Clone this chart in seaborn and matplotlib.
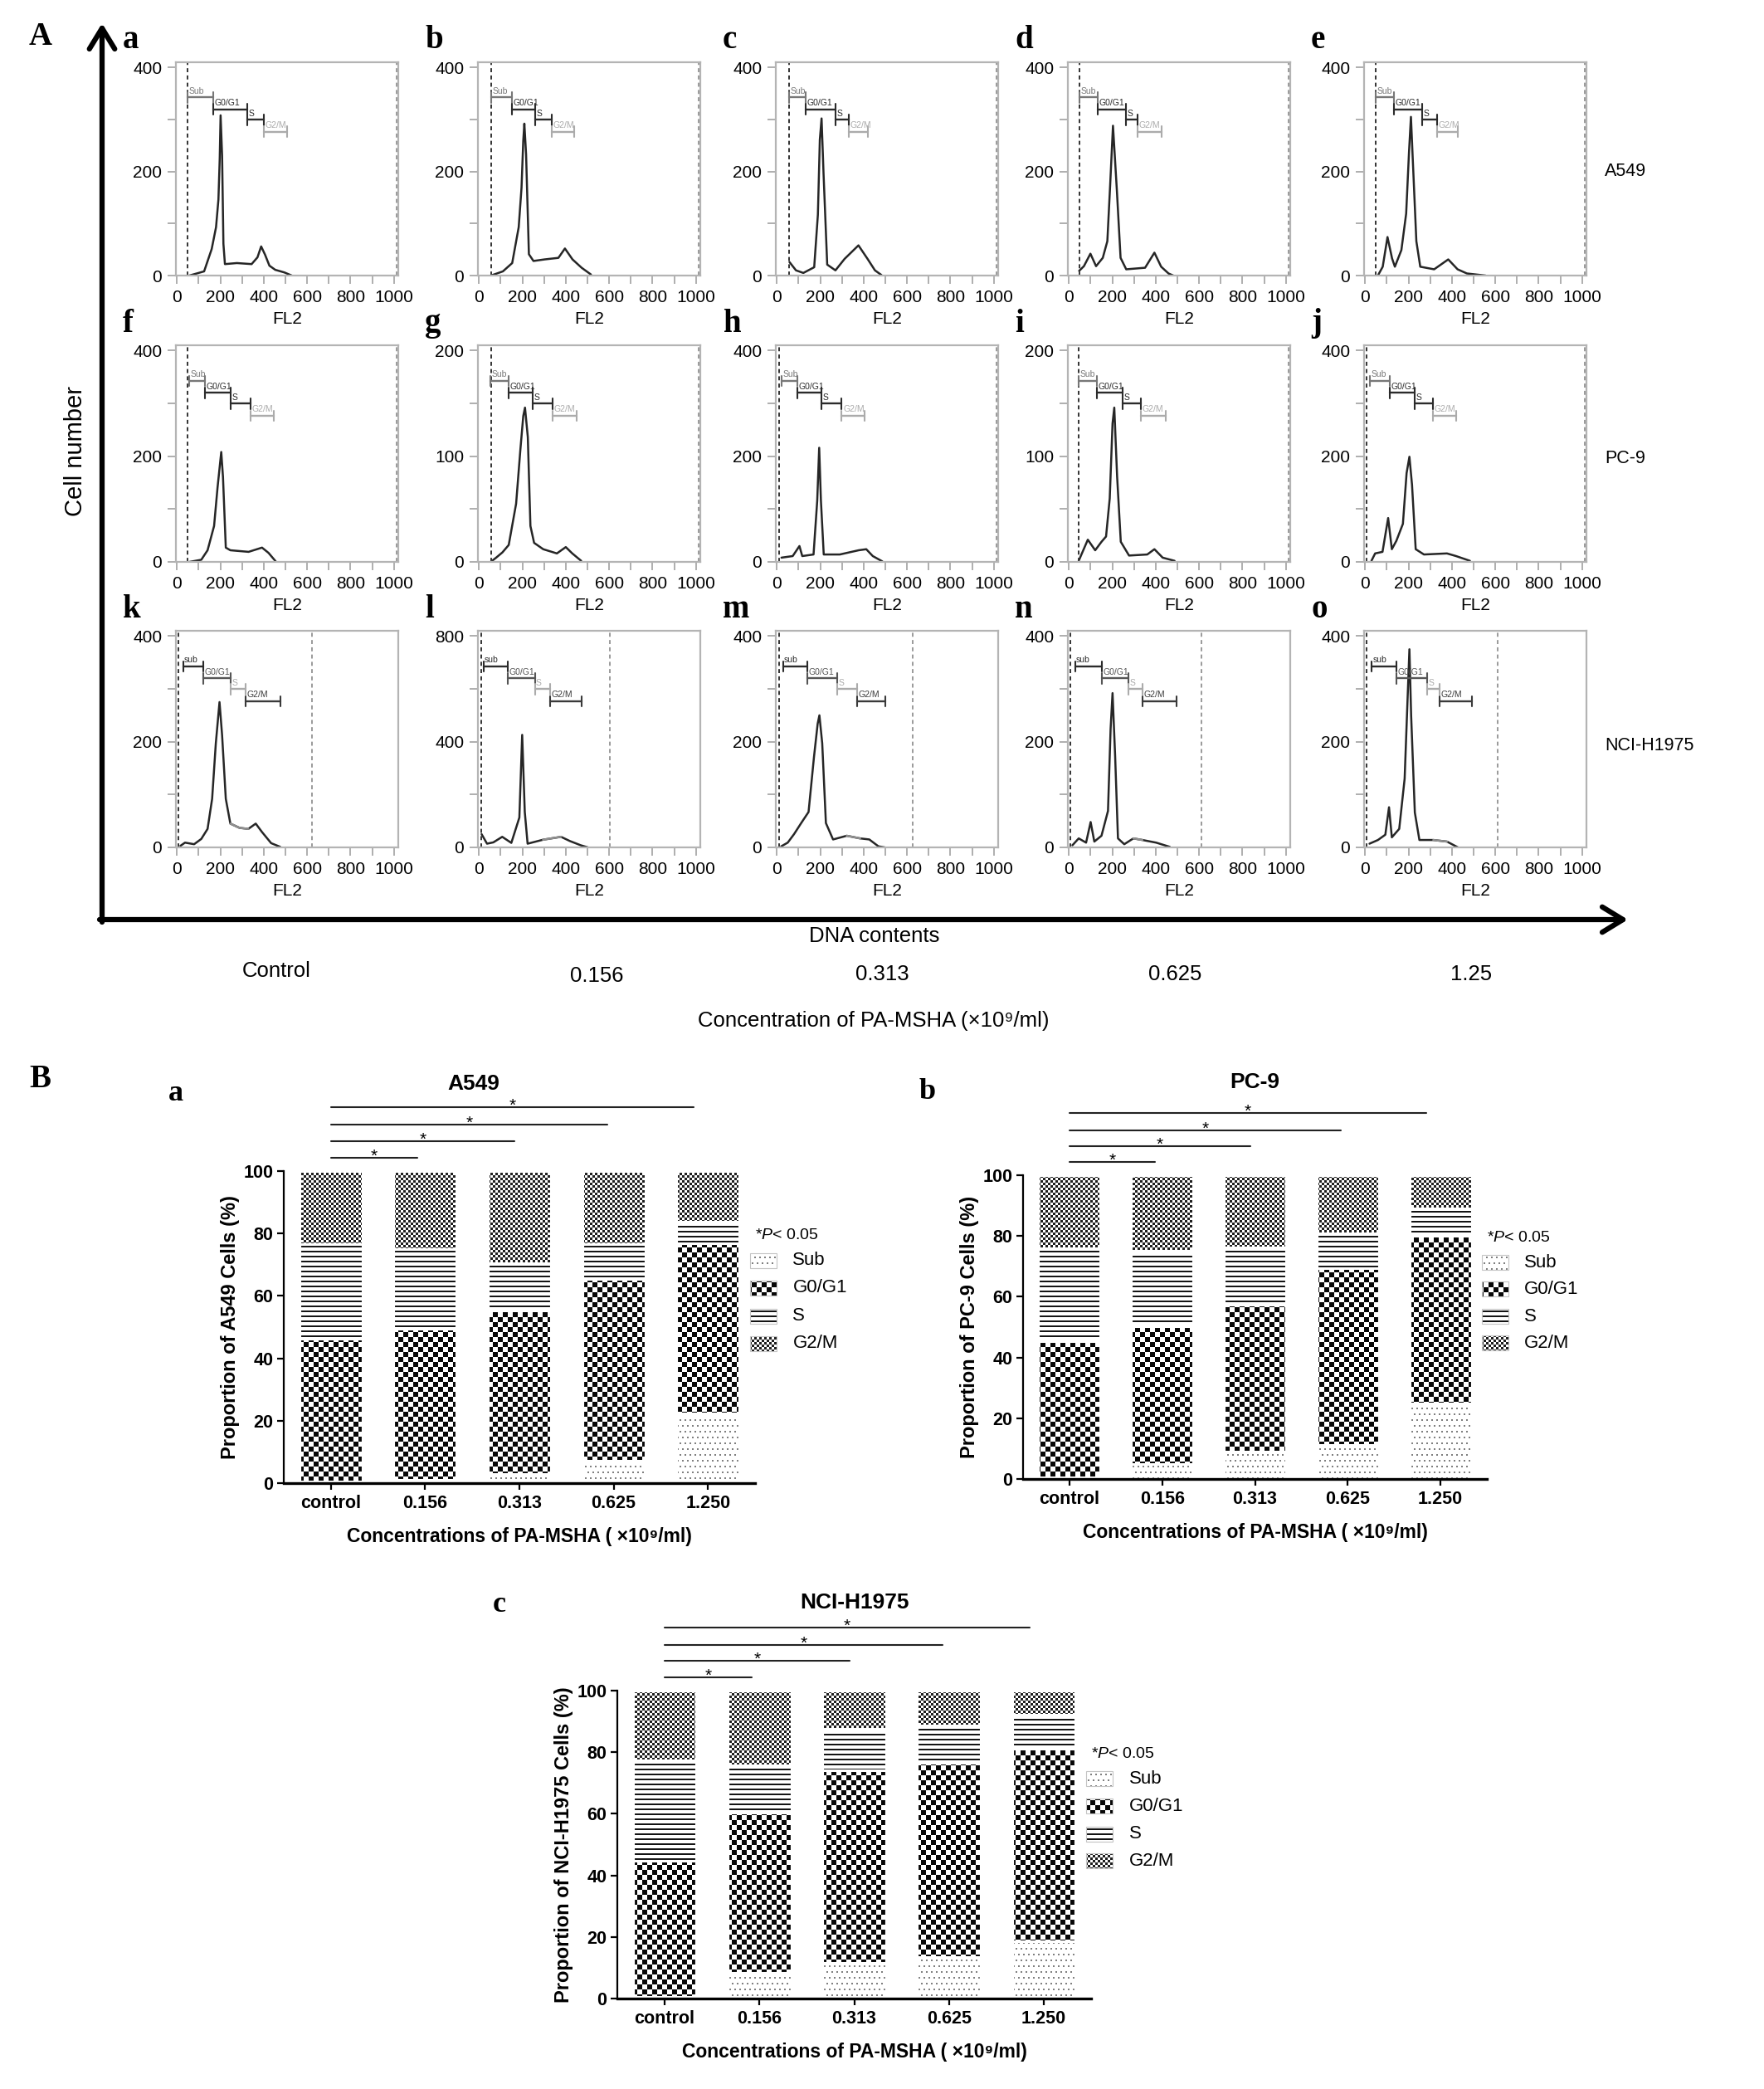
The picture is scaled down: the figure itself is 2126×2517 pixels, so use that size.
import numpy as np
import pandas as pd
import matplotlib
matplotlib.use("Agg")
import matplotlib.pyplot as plt
import seaborn as sns
from matplotlib.patches import FancyArrowPatch, Rectangle
from matplotlib.transforms import blended_transform_factory

# ---------------- Panel A: FL2 histograms (cell counts)
a_x = [57, 125, 160, 180, 191, 197, 201, 208, 214, 221, 276, 344, 371, 388, 406, 426, 453, 495, 529]
a_y = [0, 8, 51, 93, 146, 225, 308, 230, 61, 22, 24, 22, 35, 56, 40, 19, 11, 6, 0]
b_x = [55, 110, 153, 183, 196, 204, 209, 217, 230, 251, 302, 366, 396, 431, 473, 516]
b_y = [0, 8, 24, 93, 169, 259, 292, 233, 41, 28, 31, 34, 52, 31, 15, 2]
c_x = [58, 88, 122, 172, 189, 198, 206, 215, 232, 270, 312, 376, 418, 452, 482]
c_y = [26, 10, 5, 16, 117, 261, 302, 197, 21, 10, 32, 58, 32, 10, 1]
d_x = [47, 69, 99, 125, 156, 177, 190, 203, 221, 238, 264, 351, 394, 425, 459, 481]
d_y = [9, 18, 42, 18, 34, 66, 174, 288, 163, 34, 12, 15, 44, 17, 4, 0]
e_x = [60, 81, 103, 124, 137, 167, 189, 202, 211, 219, 236, 254, 318, 383, 426, 469, 555]
e_y = [1, 17, 74, 33, 17, 49, 119, 236, 305, 228, 66, 17, 12, 31, 12, 4, 0]
f_x = [58, 112, 141, 171, 187, 204, 212, 225, 246, 330, 392, 422, 455]
f_y = [0, 4, 22, 68, 141, 208, 161, 27, 22, 19, 27, 17, 1]
g_x = [54, 79, 108, 137, 171, 191, 204, 212, 225, 237, 254, 296, 359, 400, 430, 471]
g_y = [0, 4, 9, 16, 55, 107, 138, 146, 118, 34, 18, 12, 8, 14, 8, 1]
h_x = [21, 73, 104, 117, 169, 186, 195, 203, 216, 290, 377, 412, 442, 486]
h_y = [8, 11, 30, 11, 14, 116, 216, 116, 14, 14, 22, 24, 11, 1]
i_x = [45, 87, 121, 150, 171, 188, 201, 209, 222, 239, 277, 361, 394, 432, 487]
i_y = [1, 21, 11, 19, 24, 60, 131, 146, 81, 19, 6, 7, 12, 4, 1]
j_x = [29, 46, 80, 106, 123, 144, 174, 191, 204, 216, 233, 271, 377, 419, 483]
j_y = [2, 16, 19, 83, 24, 40, 72, 168, 199, 146, 24, 14, 16, 11, 2]
k_x = [16, 37, 79, 112, 141, 162, 179, 196, 208, 225, 246, 288, 329, 363, 392, 434, 476]
k_y = [3, 9, 6, 16, 35, 92, 197, 275, 212, 92, 45, 37, 35, 45, 29, 8, 1]
l_x = [12, 37, 66, 107, 149, 186, 199, 211, 224, 295, 378, 419, 469, 502]
l_y = [50, 14, 19, 40, 17, 113, 426, 134, 14, 29, 40, 24, 8, 0]
m_x = [20, 50, 79, 112, 146, 171, 188, 196, 209, 226, 259, 322, 384, 426, 468, 497]
m_y = [2, 9, 25, 46, 67, 171, 234, 250, 197, 46, 15, 22, 17, 15, 2, 0]
n_x = [16, 45, 79, 100, 117, 150, 180, 192, 201, 213, 226, 255, 297, 339, 402, 465]
n_y = [4, 17, 9, 48, 11, 22, 69, 224, 292, 172, 17, 6, 17, 14, 9, 1]
o_x = [20, 59, 93, 110, 123, 157, 182, 195, 204, 212, 229, 250, 314, 377, 428]
o_y = [7, 14, 24, 76, 19, 35, 130, 275, 375, 249, 66, 14, 14, 11, 0]

# gate limits: Sub start, G0/G1 start, S start, G2/M start, G2/M end
a_gates = [50, 167, 324, 401, 507]
b_gates = [55, 153, 260, 337, 439]
c_gates = [58, 134, 270, 333, 418]
d_gates = [47, 134, 264, 316, 429]
e_gates = [47, 133, 262, 331, 426]
f_gates = [58, 129, 246, 338, 447]
g_gates = [54, 137, 246, 338, 451]
h_gates = [21, 95, 204, 299, 403]
i_gates = [45, 129, 247, 331, 445]
j_gates = [20, 114, 228, 313, 419]
k_gates = [28, 120, 246, 317, 476]
l_gates = [20, 132, 257, 328, 473]
m_gates = [28, 141, 279, 371, 500]
n_gates = [28, 150, 276, 339, 495]
o_gates = [29, 144, 284, 343, 492]

hist_ymax = [410, 410, 410, 410, 410, 410, 205, 410, 205, 410, 410, 820, 410, 410, 410]
left_marks = [50, 55, 58, 47, 50, 50, 55, 12, 45, 8, 8, 12, 12, 8, 8]
right_marks = [1012] * 10 + [622, 605, 627, 611, 611]
row_names = ["A549", "PC-9", "NCI-H1975"]
conc_top = ["Control", "0.156", "0.313", "0.625", "1.25"]

# ---------------- Panel B: cell-cycle proportions (%)
conc_labels = ["control", "0.156", "0.313", "0.625", "1.250"]
a549_sub = [0.5, 1.0, 2.8, 7.3, 22.3]
a549_g1 = [45.8, 48.6, 52.4, 58.2, 54.5]
a549_s = [30.2, 25.4, 15.3, 11.0, 7.0]
a549_g2 = [23.5, 25.0, 29.5, 23.5, 16.2]
pc9_sub = [0.5, 4.8, 9.1, 11.3, 25.0]
pc9_g1 = [44.8, 45.6, 48.3, 58.1, 55.0]
pc9_s = [30.7, 24.8, 18.9, 11.6, 9.0]
pc9_g2 = [24.0, 24.8, 23.7, 19.0, 11.0]
h1975_sub = [0.5, 8.3, 11.6, 13.4, 18.7]
h1975_g1 = [44.2, 52.2, 62.5, 63.1, 62.3]
h1975_s = [32.6, 15.3, 13.5, 12.1, 11.1]
h1975_g2 = [22.7, 24.2, 12.4, 11.4, 7.9]
phase_names = ["Sub", "G0/G1", "S", "G2/M"]
# significance brackets: control vs each dose
sig_y = [104.3, 109.6, 114.8, 120.5]
sig_end = [0.92, 1.95, 2.93, 3.85]

W, H = 2126, 2517
sns.set_theme(style="ticks")
plt.rcParams["font.family"] = ["Liberation Sans", "DejaVu Sans"]
plt.rcParams["mathtext.fontset"] = "custom"
plt.rcParams["mathtext.rm"] = "Liberation Sans"
plt.rcParams["mathtext.it"] = "Liberation Sans:italic"
plt.rcParams["mathtext.bf"] = "Liberation Sans:bold"
for key in ["text.color", "axes.labelcolor", "xtick.color", "ytick.color"]:
    plt.rcParams[key] = "black"

fig = plt.figure(figsize=(W / 100, H / 100), dpi=100)


def add_ax(left, top, w, h):
    return fig.add_axes([left / W, 1 - (top + h) / H, w / W, h / H])


def ftext(x, y, s, **kw):
    return fig.text(x / W, 1 - y / H, s, **kw)


def texture(kind, h, w, xo=0, yo=0):
    rows, cols = np.mgrid[0:h, 0:w]
    X = cols + xo
    Y = yo + h - 1 - rows
    img = np.ones((h, w, 3))
    if kind == "Sub":
        mask = ((Y % 7) < 2) & (((X + 3 * ((Y // 7) % 2)) % 6) < 2)
        shade = 0.5
    elif kind == "G0/G1":
        mask = ((X // 6) + (Y // 6)) % 2 == 0
        shade = 0.03
    elif kind == "S":
        mask = (Y % 6) < 2
        shade = 0.08
    else:
        mask = ((X // 3) + (Y // 3)) % 2 == 0
        shade = 0.12
    img[mask] = shade
    return img


def fill_px(kind, x0, y0, x1, y1):
    xo, yo = int(round(x0)), int(round(y0))
    w, h = int(round(x1)) - xo, int(round(y1)) - yo
    if w < 1 or h < 1:
        return
    fig.figimage(texture(kind, h, w, xo, yo), xo=xo, yo=yo, zorder=-1, origin="upper")


# ---------------- Panel A
hx = dict(a=a_x, b=b_x, c=c_x, d=d_x, e=e_x, f=f_x, g=g_x, h=h_x, i=i_x, j=j_x,
          k=k_x, l=l_x, m=m_x, n=n_x, o=o_x)
hy = dict(a=a_y, b=b_y, c=c_y, d=d_y, e=e_y, f=f_y, g=g_y, h=h_y, i=i_y, j=j_y,
          k=k_y, l=l_y, m=m_y, n=n_y, o=o_y)
hg = dict(a=a_gates, b=b_gates, c=c_gates, d=d_gates, e=e_gates, f=f_gates, g=g_gates,
          h=h_gates, i=i_gates, j=j_gates, k=k_gates, l=l_gates, m=m_gates, n=n_gates, o=o_gates)

row_tops = [75, 416, 760]
row_h = [257, 261, 261]
col_lefts = [212, 576, 935, 1287, 1644]
col_w = 268
gate_frac = [0.835, 0.78, 0.73, 0.675]
gate_cols = [["#777777", "#2b2b2b", "#2b2b2b", "#ababab"],
             ["#2b2b2b", "#555555", "#ababab", "#3a3a3a"]]

for idx, letter in enumerate("abcdefghijklmno"):
    row, col = divmod(idx, 5)
    left, top = col_lefts[col], row_tops[row]
    ax = add_ax(left, top, col_w, row_h[row])
    xs, ys, gates = np.array(hx[letter]), np.array(hy[letter]), hg[letter]
    ymax = hist_ymax[idx]
    sns.lineplot(x=xs, y=ys, ax=ax, color="#262626", linewidth=1.8, estimator=None)
    if row == 2:
        i0 = int(np.argmax(xs >= gates[2]))
        i1 = int(np.argmax(xs >= gates[3]))
        sns.lineplot(x=xs[i0:i1 + 1], y=ys[i0:i1 + 1], ax=ax, color="#8f8f8f",
                     linewidth=1.8, estimator=None)
    ax.set_xlim(-5, 1020)
    ax.set_ylim(0, ymax)
    step = {410: 200, 205: 100, 820: 400}[ymax]
    ax.set_yticks([0, step, 2 * step])
    ax.set_yticks([step / 2, 3 * step / 2], minor=True)
    ax.set_xticks(range(0, 1001, 200))
    ax.set_xticks(range(100, 1001, 200), minor=True)
    ax.tick_params(which="both", direction="out", length=7, width=1.3, color="#a8a8a8",
                   labelsize=15, labelcolor="black", pad=5)
    for sp in ax.spines.values():
        sp.set_color("#b4b4b4")
        sp.set_linewidth(1.6)
    ax.axvline(left_marks[idx], color="#333333", lw=1.4, ls=(0, (2.5, 2)))
    ax.axvline(right_marks[idx], color="#9a9a9a", lw=1.4, ls=(0, (2.5, 2)))
    tr = blended_transform_factory(ax.transData, ax.transAxes)
    names = ["sub", "G0/G1", "S", "G2/M"] if row == 2 else ["Sub", "G0/G1", "S", "G2/M"]
    cols = gate_cols[1] if row == 2 else gate_cols[0]
    for gi in range(4):
        x0, x1, yf, cc = gates[gi], gates[gi + 1], gate_frac[gi], cols[gi]
        ax.plot([x0, x1], [yf, yf], transform=tr, color=cc, lw=1.7)
        for xe in (x0, x1):
            ax.plot([xe, xe], [yf - 0.024, yf + 0.024], transform=tr, color=cc, lw=1.5)
        ax.text(x0 + 6, yf + 0.01, names[gi], transform=tr, fontsize=7.5, color=cc, va="bottom")
    ax.set_xlabel("FL2", fontsize=15, labelpad=5)
    ax.set_ylabel("")
    ftext(left - 64, top - 26, letter, fontfamily="Liberation Serif", fontweight="bold",
          fontsize=28, ha="left", va="center")

for r, name in enumerate(row_names):
    ftext(1934, [207, 552, 898][r], name, fontsize=15.5, ha="left", va="center")

# axes arrows of panel A
fig.add_artist(FancyArrowPatch((123 / W, 1 - 1111 / H), (123 / W, 1 - 28 / H),
                               transform=fig.transFigure, arrowstyle="->,head_length=0.9,head_width=0.55",
                               mutation_scale=20, lw=4.5, color="black", shrinkA=0, shrinkB=0))
fig.add_artist(FancyArrowPatch((120 / W, 1 - 1108 / H), (1962 / W, 1 - 1108 / H),
                               transform=fig.transFigure, arrowstyle="->,head_length=0.9,head_width=0.55",
                               mutation_scale=20, lw=4.5, color="black", shrinkA=0, shrinkB=0))
ftext(91, 544, "Cell number", fontsize=21, rotation=90, ha="center", va="center")
ftext(1054, 1128, "DNA contents", fontsize=18.5, ha="center", va="center")
for xc, yc, lab in zip([333, 719, 1063, 1416, 1773], [1170, 1176, 1174, 1174, 1174], conc_top):
    ftext(xc, yc, lab, fontsize=18.5, ha="center", va="center")
ftext(1053, 1230, "Concentration of PA-MSHA (×10⁹/ml)", fontsize=18.5, ha="center", va="center")
ftext(35, 45, "A", fontfamily="Liberation Serif", fontweight="bold", fontsize=28, va="center")
ftext(35, 1300, "B", fontfamily="Liberation Serif", fontweight="bold", fontsize=28, va="center")


# ---------------- Panel B
def stacked(ax, layers, title, title_x, title_y, ylab):
    cum = np.cumsum(np.array(layers), axis=0)
    df = pd.DataFrame({"conc": conc_labels})
    groups = []
    for k in range(3, -1, -1):
        df["top"] = cum[k]
        n0 = len(ax.patches)
        sns.barplot(data=df, x="conc", y="top", ax=ax, width=0.67, color="white", errorbar=None)
        groups.append((k, ax.patches[n0:]))
    ax.set_facecolor("none")
    ax.set_xlim(-0.5, 4.5)
    ax.set_ylim(0, 100)
    for k, bars in groups:
        for bi, p in enumerate(bars):
            p.set_facecolor("none")
            p.set_edgecolor("white")
            p.set_linewidth(2.2)
            bot = cum[k - 1][bi] if k > 0 else 0.0
            (x0, y0), (x1, y1) = ax.transData.transform(
                [(p.get_x(), bot), (p.get_x() + p.get_width(), p.get_height())])
            fill_px(phase_names[k], x0, y0, x1, y1)
    sns.despine(ax=ax)
    ax.spines["left"].set_linewidth(1.6)
    ax.spines["bottom"].set_linewidth(2.4)
    ax.spines["left"].set_color("black")
    ax.spines["bottom"].set_color("black")
    ax.set_yticks(range(0, 101, 20))
    ax.tick_params(axis="y", direction="out", length=6, width=1.6, pad=3, labelsize=15.5)
    ax.tick_params(axis="x", direction="out", length=6, width=1.6, pad=4, labelsize=15.5)
    for lab in ax.get_xticklabels() + ax.get_yticklabels():
        lab.set_fontweight("bold")
    ax.set_xlabel("Concentrations of PA-MSHA ( ×10⁹/ml)", fontsize=16.5, fontweight="bold",
                  labelpad=13)
    ax.set_ylabel(ylab, fontsize=17, fontweight="bold", labelpad=3)
    ax.text(title_x, title_y, title, transform=ax.transAxes, ha="center", va="center",
            fontsize=19, fontweight="bold")
    for yv, xe in zip(sig_y, sig_end):
        ax.plot([0, xe], [yv, yv], color="#222222", lw=1.5, clip_on=False)
        ax.text(xe / 2, yv - 1.0, "*", ha="center", va="baseline", fontsize=15, clip_on=False)
    # legend
    ax.text(1.0, 0.795, r"*$\mathit{P}$< 0.05", transform=ax.transAxes, fontsize=14,
            ha="left", va="center")
    for k, yc in enumerate([0.713, 0.625, 0.535, 0.447]):
        px0, pyc = ax.transAxes.transform((0.99, yc))
        xo, yo = int(round(px0)), int(round(pyc - 9))
        fig.figimage(texture(phase_names[k], 18, 32, xo, yo), xo=xo, yo=yo, zorder=-1, origin="upper")
        fig.add_artist(Rectangle((xo / W, yo / H), 32 / W, 18 / H, transform=fig.transFigure,
                                 fill=False, edgecolor="#c4c4c4", lw=0.8))
        ax.text(1.08, yc, phase_names[k], transform=ax.transAxes, fontsize=16,
                ha="left", va="center")


ax1 = add_ax(342, 1411, 568, 376)
stacked(ax1, [a549_sub, a549_g1, a549_s, a549_g2], "A549", 0.403, 1.279,
        "Proportion of A549 Cells (%)")
ax2 = add_ax(1233, 1416, 559, 366)
stacked(ax2, [pc9_sub, pc9_g1, pc9_s, pc9_g2], "PC-9", 0.5, 1.306, "Proportion of PC-9 Cells (%)")
ax3 = add_ax(744, 2037, 571, 371)
stacked(ax3, [h1975_sub, h1975_g1, h1975_s, h1975_g2], "NCI-H1975", 0.5, 1.286,
        "Proportion of NCI-H1975 Cells (%)")
for x, y, s in [(203, 1317, "a"), (1108, 1315, "b"), (594, 1933, "c")]:
    ftext(x, y, s, fontfamily="Liberation Serif", fontweight="bold", fontsize=26,
          ha="left", va="center")

fig.savefig("out.png", dpi=100)
